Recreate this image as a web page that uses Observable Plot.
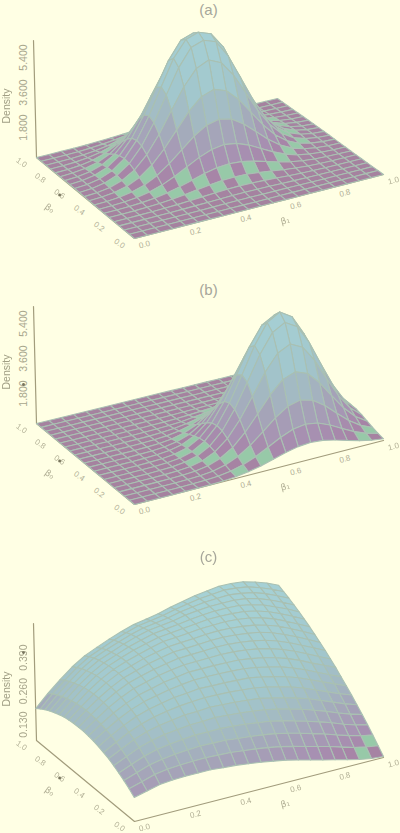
<!DOCTYPE html>
<html>
<head>
<meta charset="utf-8">
<script src="https://cdn.jsdelivr.net/npm/d3@7"></script>
<script src="https://cdn.jsdelivr.net/npm/@observablehq/plot@0.6"></script>
<style>
html,body{margin:0;padding:0;background:#ffffe4;}
svg{display:block;filter:blur(0.45px);}
</style>
</head>
<body>
<div id="chart"></div>
<script>
const gridSteps = [0,.05,.1,.15,.2,.25,.3,.35,.4,.45,.5,.55,.6,.65,.7,.75,.8,.85,.9,.95,1];
const axisTicks = [0,.2,.4,.6,.8,1];
const tickLabels = ["0.0","0.2","0.4","0.6","0.8","1.0"];
const panelTitles = ["(a)","(b)","(c)"];
const zTicksAB = [1800,3600,5400];
const zLabelsAB = ["1.800","3.600","5.400"];
const zTicksC = [130,260,390];
const zLabelsC = ["0.130","0.260","0.390"];

// Density read at each grid node: rows are beta0 = 0 ... 1, columns beta1 = 0 ... 1
const densityA = [
[0,0,0,0,0,0,0,0,1,1,1,1,1,0,0,0,0,0,0,0,0],
[0,0,0,0,0,1,1,1,1,1,1,1,1,1,1,1,0,0,0,0,0],
[0,0,1,2,4,7,11,16,22,26,27,26,22,16,11,7,4,2,1,0,0],
[0,1,2,5,10,18,31,45,59,70,74,70,59,45,31,18,10,5,2,1,0],
[1,2,6,13,26,49,80,119,157,185,196,185,157,119,80,49,26,13,6,2,1],
[2,5,13,29,60,111,183,270,357,421,446,421,357,270,183,111,60,29,13,5,2],
[4,10,26,60,123,227,374,553,730,862,911,862,730,553,374,227,123,60,26,10,4],
[7,18,49,111,227,419,691,1020,1346,1590,1681,1590,1346,1020,691,419,227,111,49,18,7],
[11,30,81,183,374,691,1140,1684,2222,2625,2774,2625,2222,1684,1140,691,374,183,81,30,11],
[16,45,119,271,553,1020,1684,2487,3282,3876,4097,3876,3282,2487,1684,1020,553,271,119,45,16],
[22,59,157,357,730,1346,2222,3282,4331,5115,5407,5115,4331,3282,2222,1346,730,357,157,59,22],
[26,70,185,422,862,1590,2624,3876,5115,6000,6230,6000,5115,3876,2624,1590,862,422,185,70,26],
[27,74,196,446,911,1681,2774,4097,5407,6230,6450,6230,5407,4097,2774,1681,911,446,196,74,27],
[26,70,185,422,862,1590,2624,3876,5115,6000,6230,6000,5115,3876,2624,1590,862,422,185,70,26],
[22,59,157,357,730,1346,2222,3282,4331,5115,5407,5115,4331,3282,2222,1346,730,357,157,59,22],
[16,45,119,271,553,1020,1684,2487,3282,3876,4097,3876,3282,2487,1684,1020,553,271,119,45,16],
[11,30,81,183,374,691,1140,1684,2222,2625,2774,2625,2222,1684,1140,691,374,183,81,30,11],
[7,18,49,111,227,419,691,1020,1346,1590,1681,1590,1346,1020,691,419,227,111,49,18,7],
[4,10,26,60,123,227,374,553,730,862,911,862,730,553,374,227,123,60,26,10,4],
[2,5,13,29,60,111,183,270,357,421,446,421,357,270,183,111,60,29,13,5,2],
[1,2,6,13,26,49,80,119,157,185,196,185,157,119,80,49,26,13,6,2,1]
];
const densityB = [
[0,0,0,0,1,5,14,37,85,172,306,477,656,794,846,794,656,477,306,172,85],
[0,0,0,0,3,9,27,69,158,317,563,879,1210,1464,1561,1464,1210,879,563,317,158],
[0,0,0,0,5,15,44,113,260,523,930,1451,1997,2417,2577,2417,1997,1451,930,523,260],
[0,0,0,0,7,22,65,168,384,773,1374,2143,2949,3570,3806,3570,2949,2143,1374,773,384],
[0,0,0,0,9,29,86,221,507,1020,1813,2828,3892,4711,5022,4711,3892,2828,1813,1020,507],
[0,0,0,0,10,34,101,261,599,1204,2141,3339,4597,5563,5931,5563,4597,3339,2141,1204,599],
[0,0,0,0,11,36,107,276,633,1273,2263,3530,4859,5881,6270,5881,4859,3530,2263,1273,633],
[0,0,0,0,10,34,101,261,599,1204,2141,3339,4597,5563,5931,5563,4597,3339,2141,1204,599],
[0,0,0,0,9,29,86,221,507,1020,1813,2828,3892,4711,5022,4711,3892,2828,1813,1020,507],
[0,0,0,0,7,22,65,168,384,773,1374,2143,2949,3570,3806,3570,2949,2143,1374,773,384],
[0,0,0,0,5,15,44,113,260,523,930,1451,1997,2417,2577,2417,1997,1451,930,523,260],
[0,0,0,0,3,9,27,69,158,317,563,879,1210,1464,1561,1464,1210,879,563,317,158],
[0,0,0,0,1,5,14,37,85,172,306,477,656,794,846,794,656,477,306,172,85],
[0,0,0,0,1,2,7,18,42,84,149,233,321,388,414,388,321,233,149,84,42],
[0,0,0,0,0,1,3,8,18,37,66,102,141,171,182,171,141,102,66,37,18],
[0,0,0,0,0,0,1,3,7,14,25,39,53,65,69,65,53,39,25,14,7],
[0,0,0,0,0,0,0,1,3,5,9,14,19,24,25,24,19,14,9,5,3],
[0,0,0,0,0,0,0,0,1,1,2,4,5,6,6,6,5,4,2,1,1],
[0,0,0,0,0,0,0,0,0,0,0,0,0,0,0,0,0,0,0,0,0],
[0,0,0,0,0,0,0,0,0,0,0,0,0,0,0,0,0,0,0,0,0],
[0,0,0,0,0,0,0,0,0,0,0,0,0,0,0,0,0,0,0,0,0]
];
// Panel (c), in thousandths of density
const densityC = [
[138,150,162,167,169,169,169,165,162,156,150,142,134,123,111,99,88,76,65,57,53],
[155,169,184,192,196,198,199,197,195,190,185,178,170,159,147,135,123,109,96,86,79],
[170,187,204,214,221,225,228,227,226,221,217,211,204,194,182,169,156,140,126,114,105],
[183,203,222,235,243,249,254,254,255,252,248,242,236,226,214,201,187,172,155,140,130],
[195,217,239,254,265,271,277,279,282,279,276,271,265,256,245,232,217,201,183,167,154],
[206,230,254,272,284,292,300,302,306,304,302,298,294,284,273,260,246,228,210,192,177],
[214,241,267,286,301,311,319,324,328,327,326,323,319,311,301,288,273,254,235,216,200],
[221,251,278,300,316,327,337,342,348,347,347,345,343,335,325,313,298,279,259,240,221],
[227,258,287,311,329,341,352,360,366,367,367,366,364,357,348,337,321,303,282,261,242],
[231,264,295,320,340,353,366,374,382,383,384,384,383,377,369,358,343,325,303,283,263],
[234,268,301,328,350,364,377,387,395,397,399,401,400,396,389,379,364,346,325,303,282],
[234,271,305,334,357,372,386,397,406,409,412,415,415,412,406,397,383,365,344,323,301],
[234,272,307,337,362,378,394,405,416,419,423,427,428,426,421,414,401,383,363,341,318],
[232,272,308,340,365,382,399,411,422,427,431,436,439,438,434,428,416,401,380,358,335],
[229,269,307,340,366,385,401,415,428,433,438,444,447,449,447,442,431,416,396,374,352],
[223,265,304,339,365,385,403,417,430,436,442,449,455,457,456,453,444,430,411,390,367],
[216,259,299,334,362,382,401,416,430,437,444,452,459,463,464,463,455,443,424,405,382],
[208,252,292,329,358,378,398,415,429,436,444,455,462,467,469,470,465,454,438,418,396],
[198,243,284,322,352,373,392,410,424,433,441,454,462,470,474,477,472,464,449,430,409],
[186,233,274,312,343,364,385,403,419,428,437,450,460,470,476,482,479,473,459,442,421],
[173,220,262,301,332,354,375,394,410,420,430,445,456,468,476,484,484,480,468,453,433]
];

// Camera: where the four floor corners land on the page
const floorA = [134,238], floorB = [383,174], floorC = [36,157], floorD = [277,98];
const axisPixels = 117;

const sx = floorA[0]-floorB[0]+floorD[0]-floorC[0], sy = floorA[1]-floorB[1]+floorD[1]-floorC[1];
const d1x = floorB[0]-floorD[0], d2x = floorC[0]-floorD[0], d1y = floorB[1]-floorD[1], d2y = floorC[1]-floorD[1];
const det = d1x*d2y-d2x*d1y;
const g = (sx*d2y-d2x*sy)/det, h = (d1x*sy-sx*d1y)/det;
const ha = floorB[0]-floorA[0]+g*floorB[0], hb = floorC[0]-floorA[0]+h*floorC[0];
const hd = floorB[1]-floorA[1]+g*floorB[1], he = floorC[1]-floorA[1]+h*floorC[1];

function project(b1, b0, t) {
  const w = 1+g*b1+h*b0;
  const px = (ha*b1+hb*b0+floorA[0])/w, py = (hd*b1+he*b0+floorA[1])/w;
  const lift = axisPixels*(1+h)/w*t;
  return {px: px+(px-200)*0.0183*t, py: py-lift, base: py};
}

const panels = [
  {title: panelTitles[0], z: densityA, k: 1, lo: 0, hi: 6017, ticks: zTicksAB, labels: zLabelsAB, top: 0, h: 275, titleY: 10, band: 1, smudge: null},
  {title: panelTitles[1], z: densityB, k: 1, lo: 0, hi: 6017, ticks: zTicksAB, labels: zLabelsAB, top: -9, h: 270, titleY: 15, band: 1, smudge: 0},
  {title: panelTitles[2], z: densityC, k: .001, lo: .049, hi: .503, ticks: zTicksC, labels: zLabelsC, top: 38, h: 288, titleY: 12, band: 1.2, smudge: 2}
];

const purple = "#a5829f", green = "#97c9a8";
const tanText = "#b0ae94", axisInk = "#a29c7c";

function drawPanel(p) {
  const T = v => (v*p.k-p.lo)/(p.hi-p.lo);
  const cells = [];
  for (let j=0;j<20;j++) for (let i=0;i<20;i++) {
    const m = T((p.z[j][i]+p.z[j][i+1]+p.z[j+1][i]+p.z[j+1][i+1])/4);
    let tone = m*p.band;
    if (m>.025 && m<.11 && (i+j)%2===0) tone = -1;
    const c = project(gridSteps[i]+.025, gridSteps[j]+.025, 0);
    cells.push({i,j,tone,depth:c.base});
  }
  cells.sort((a,b)=>a.depth-b.depth);
  const verts = [];
  cells.forEach((c,n)=>{
    for (const [a,b] of [[0,0],[1,0],[1,1],[0,1],[0,0]]) {
      const q = project(gridSteps[c.i+a], gridSteps[c.j+b], T(p.z[c.j+b][c.i+a]));
      verts.push({n, tone:c.tone, x:q.px, y:q.py+p.top});
    }
  });
  const P = (a,b,t) => { const q = project(a,b,t); return {x:q.px, y:q.py+p.top}; };
  const frame = [P(0,1,1), P(0,1,0), P(0,0,0), P(1,0,0)];
  const xt = axisTicks.map((v,i)=>({...P(v,0,0), s:tickLabels[i]}));
  const yt = axisTicks.map((v,i)=>({...P(0,v,0), s:tickLabels[i]}));
  const zt = p.ticks.map((v,i)=>({x:23, y:P(0,1,T(v)).y+5, s:p.labels[i]}));
  const lab1 = P(.55,0,0), lab0 = P(0,.56,0), dens = P(0,1,.44);
  const spots = [{x:yt[3].x-15, y:yt[3].y+6}];
  if (p.smudge !== null) spots.push({x:23, y:zt[p.smudge].y + (p.smudge ? -5 : -9)});
  return Plot.plot({
    width: 400, height: p.h, margin: 0,
    style: {background: "#ffffe4", overflow: "visible"},
    x: {domain: [0,400], range: [0,400], axis: null},
    y: {domain: [0,p.h], range: [0,p.h], axis: null},
    color: {type: "linear", domain: [-1,-.01,0,.11,.2,.35,.5,.7,1.15],
      range: [green,green,purple,"#a785a8","#a791b2","#a5a3b8","#a3b9c2","#a2c8ce","#a6d2d6"]},
    marks: [
      Plot.line(frame, {x:"x", y:"y", stroke:axisInk, strokeWidth:1.2}),
      Plot.line(verts, {x:"x", y:"y", z:"n", fill:"tone", stroke:"#a9c0b2", strokeWidth:1.1}),
      Plot.text(xt, {x:"x", y:"y", text:"s", dx:10, dy:6, rotate:-15, fontSize:8, fill:tanText, fontFamily:"Liberation Sans"}),
      Plot.text(yt, {x:"x", y:"y", text:"s", dx:-15, dy:5, rotate:35, fontSize:8, fill:tanText, fontFamily:"Liberation Sans"}),
      Plot.text([lab1], {x:"x", y:"y", text:()=>"β₁", dx:12, dy:18, rotate:-15, fontSize:9, fill:tanText, fontFamily:"DejaVu Sans"}),
      Plot.text([lab0], {x:"x", y:"y", text:()=>"β₀", dx:-29, dy:16, rotate:35, fontSize:9, fill:tanText, fontFamily:"DejaVu Sans"}),
      Plot.text(zt, {x:"x", y:"y", text:"s", rotate:-90, fontSize:10.5, fill:"#a8a68c", fontFamily:"Liberation Sans"}),
      Plot.text([dens], {x:()=>6, y:"y", text:()=>"Density", rotate:-90, fontSize:10.5, fill:"#a09e84", fontFamily:"Liberation Sans"}),
      Plot.dot(spots, {x:"x", y:"y", r:1.4, fill:"#77745c", stroke:"none"}),
      Plot.text([p.title], {x:()=>208, y:()=>p.titleY, text:d=>d, fontSize:15, fill:"#a6a69a", fontFamily:"Liberation Sans"})
    ]
  });
}
const host = document.getElementById("chart");
panels.forEach(p=>host.appendChild(drawPanel(p)));
</script>
</body>
</html>
